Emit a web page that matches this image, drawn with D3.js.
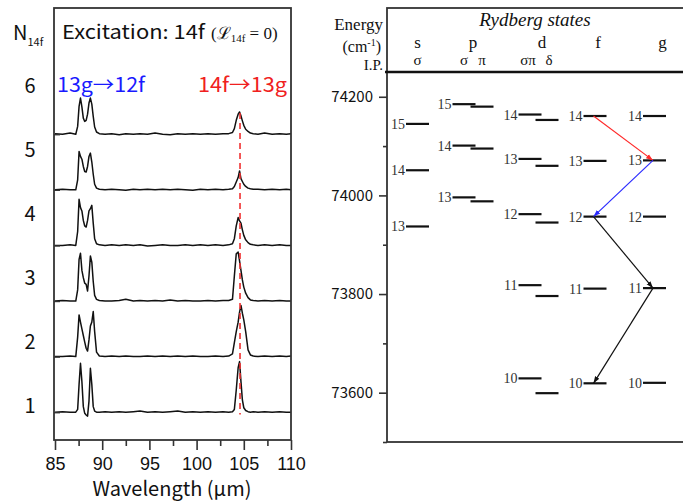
<!DOCTYPE html>
<html>
<head>
<meta charset="utf-8">
<script src="https://cdn.jsdelivr.net/npm/d3@7"></script>
<style>
  body { margin: 0; background: #fff; }
  svg { display: block; }
  .sans { font-family: "Noto Sans CJK JP", "Liberation Sans", sans-serif; }
  .serif { font-family: "Liberation Serif", "DejaVu Serif", serif; }
</style>
</head>
<body>
<script>
'use strict'

// ---- left panel data: spectra (wavelength in um, intensity in units of trace spacing)
var wavelength = [85, 85.8, 86.6, 87.2, 87.4, 87.55, 87.7, 87.85, 88.0, 88.15, 88.3, 88.45, 88.6, 88.75, 88.9, 89.05, 89.2, 89.4, 89.7, 90.3,
  91.0, 91.8, 92.5, 93.3, 94.0, 94.8, 95.6, 96.4, 97.2, 98.0, 98.8, 99.6, 100.4, 101.2, 102.0, 102.8, 103.4, 103.8, 104.0, 104.2,
  104.4, 104.55, 104.7, 104.85, 105.0, 105.2, 105.45, 105.7, 106.0, 106.5, 107.2, 108.0, 108.8, 109.5, 110]

var trace1 = [0.00, 0.01, 0.00, 0.00, 0.05, 0.50, 0.88, 0.55, 0.10, -0.02, -0.05, -0.07, 0.20, 0.79, 0.50, 0.10, 0.02, 0.00, 0.00, 0.01,
  0.00, 0.01, 0.00, 0.01, 0.02, 0.00, 0.01, 0.00, 0.01, 0.02, 0.00, 0.01, 0.00, 0.01, 0.00, 0.01, 0.00, 0.01, 0.05, 0.40,
  0.80, 0.91, 0.55, 0.22, 0.08, 0.03, 0.01, 0.00, 0.01, 0.00, 0.01, 0.00, 0.01, 0.00, 0.00]
var trace2 = [0.00, 0.00, 0.01, 0.00, 0.35, 0.75, 0.62, 0.50, 0.38, 0.26, 0.15, 0.10, 0.30, 0.55, 0.62, 0.81, 0.45, 0.08, 0.01, 0.00,
  0.01, 0.00, 0.01, 0.00, 0.00, 0.01, 0.00, 0.01, 0.00, 0.01, 0.00, 0.01, 0.00, 0.00, 0.01, 0.00, 0.01, 0.05, 0.25, 0.45,
  0.62, 0.80, 0.92, 0.78, 0.66, 0.45, 0.12, 0.03, 0.01, 0.00, 0.01, 0.00, 0.01, 0.00, 0.01]
var trace3 = [0.00, 0.01, 0.00, 0.00, 0.20, 0.75, 0.86, 0.55, 0.42, 0.32, 0.30, 0.18, 0.45, 0.81, 0.70, 0.35, 0.10, 0.03, 0.01, 0.00,
  0.00, 0.01, 0.03, 0.00, 0.01, 0.00, 0.01, 0.00, 0.02, 0.00, 0.01, 0.00, 0.00, 0.01, 0.00, 0.01, 0.01, 0.03, 0.45, 0.85,
  0.88, 0.72, 0.55, 0.38, 0.25, 0.14, 0.06, 0.02, 0.01, 0.00, 0.01, 0.00, 0.01, 0.00, 0.00]
var trace4 = [0.00, 0.00, 0.01, 0.00, 0.25, 0.83, 0.68, 0.62, 0.45, 0.35, 0.33, 0.45, 0.62, 0.66, 0.72, 0.40, 0.12, 0.03, 0.01, 0.00,
  0.01, 0.00, 0.01, 0.00, 0.01, -0.01, 0.00, 0.01, 0.00, 0.00, 0.01, 0.00, 0.01, 0.00, 0.01, 0.00, 0.01, 0.03, 0.12, 0.35,
  0.50, 0.44, 0.40, 0.28, 0.18, 0.10, 0.05, 0.02, 0.01, 0.00, 0.01, 0.00, 0.01, 0.00, 0.00]
var trace5 = [0.00, 0.01, 0.00, 0.00, 0.18, 0.69, 0.60, 0.55, 0.42, 0.33, 0.32, 0.42, 0.60, 0.66, 0.50, 0.28, 0.10, 0.03, 0.01, 0.00,
  0.01, 0.00, -0.01, 0.01, 0.00, 0.01, 0.00, 0.01, 0.00, 0.01, 0.00, -0.01, 0.01, 0.00, 0.01, 0.00, 0.01, 0.02, 0.06, 0.14,
  0.22, 0.34, 0.20, 0.15, 0.10, 0.06, 0.03, 0.02, 0.01, 0.01, 0.00, 0.01, 0.00, 0.01, 0.00]
var trace6 = [0.01, 0.00, 0.02, 0.00, 0.14, 0.50, 0.65, 0.49, 0.29, 0.23, 0.25, 0.36, 0.56, 0.65, 0.54, 0.32, 0.13, 0.04, 0.01, 0.00,
  0.01, -0.01, 0.01, 0.00, 0.01, 0.00, 0.02, 0.00, -0.01, 0.01, 0.00, 0.01, 0.00, 0.01, 0.00, 0.01, 0.01, 0.03, 0.10, 0.25,
  0.36, 0.40, 0.33, 0.24, 0.16, 0.09, 0.05, 0.02, 0.01, 0.00, 0.02, 0.00, 0.01, 0.00, 0.01]

var traceN = [1, 2, 3, 4, 5, 6]
var traces = [trace1, trace2, trace3, trace4, trace5, trace6]
var xTicksMajor = [85, 90, 95, 100, 105, 110]
var xTicksMinor = [87.5, 92.5, 97.5, 102.5, 107.5]
var transitionLine = 104.6

// ---- right panel data: Rydberg levels [n, energy cm-1]
var sSigma = [[15, 74145], [14, 74051], [13, 73937]]
var pSigma = [[15, 74185], [14, 74101], [13, 73996]]
var pPi = [[15, 74180], [14, 74095], [13, 73988]]
var dSigmaPi = [[14, 74164], [13, 74074], [12, 73962], [11, 73818], [10, 73629]]
var dDelta = [[14, 74153], [13, 74060], [12, 73945], [11, 73796], [10, 73599]]
var fLevels = [[14, 74161], [13, 74070], [12, 73957], [11, 73811], [10, 73619]]
var gLevels = [[14, 74161], [13, 74071], [12, 73957], [11, 73812], [10, 73620]]
var columnKeys = ['s', 'pσ', 'pπ', 'dσπ', 'dδ', 'f', 'g']
var columnSub = ['σ', 'σ', 'π', 'σπ', 'δ', '', '']
var columnLevels = [sSigma, pSigma, pPi, dSigmaPi, dDelta, fLevels, gLevels]
var columnLabelled = [true, true, false, true, false, true, true]
var seriesLetters = [['s', 's'], ['p', 'pσ'], ['d', 'dσπ'], ['f', 'f'], ['g', 'g']]
var energyTicks = [73600, 73800, 74000, 74200]
var energyMinor = [73500, 73700, 73900, 74100]
var ionization = 74250
var cascades = [
  {from: ['f', 14], to: ['g', 13], color: '#ff2a2a'},
  {from: ['g', 13], to: ['f', 12], color: '#2a2aff'},
  {from: ['f', 12], to: ['g', 11], color: '#111'},
  {from: ['g', 11], to: ['f', 10], color: '#111'}
]

var W = 683, H = 503
var svg = d3.select('body').append('svg').attr('width', W).attr('height', H)

// ================= left panel =================
var x = d3.scaleLinear().domain([85, 110]).range([55, 291])
var y = d3.scaleLinear().domain([0.5, 8.27]).range([440, 8])
var nLabelY = d3.scaleLinear().domain([1, 6]).range([406, 86])

var left = svg.append('g').attr('class', 'sans')

var line = d3.line()
  .x(function (d) { return x(d[0]) })
  .y(function (d) { return y(d[1]) })

traces.forEach(function (t, i) {
  var pts = wavelength.map(function (w, j) { return [w, traceN[i] + t[j]] })
  left.append('path')
    .attr('d', line(pts))
    .attr('fill', 'none')
    .attr('stroke', '#111')
    .attr('stroke-width', 1.5)
    .attr('stroke-linejoin', 'round')
})

left.append('line')
  .attr('x1', x(transitionLine)).attr('x2', x(transitionLine))
  .attr('y1', y(6.38)).attr('y2', y(0.96))
  .attr('stroke', '#f03030')
  .attr('stroke-width', 1.6)
  .attr('stroke-dasharray', '6,4')

left.append('rect')
  .attr('x', 54).attr('y', 8).attr('width', 237).attr('height', 432)
  .attr('fill', 'none').attr('stroke', '#333').attr('stroke-width', 1.8)

var xAxis = left.append('g').attr('transform', 'translate(0,440)')
  .call(d3.axisBottom(x).tickValues(xTicksMajor).tickSize(10).tickPadding(7).tickFormat(d3.format('d')))
xAxis.select('.domain').remove()
xAxis.selectAll('line').attr('stroke', '#333').attr('stroke-width', 1.6)
xAxis.selectAll('text').attr('font-size', 18).attr('fill', '#111')

var xMinor = left.append('g').attr('transform', 'translate(0,440)')
  .call(d3.axisBottom(x).tickValues(xTicksMinor).tickSize(6).tickFormat(''))
xMinor.select('.domain').remove()
xMinor.selectAll('line').attr('stroke', '#333').attr('stroke-width', 1.6)

var yAxis = left.append('g').attr('transform', 'translate(54,0)')
  .call(d3.axisRight(y).tickValues(traceN).tickSize(6).tickFormat(''))
yAxis.select('.domain').remove()
yAxis.selectAll('line').attr('stroke', '#333').attr('stroke-width', 1.4)

left.selectAll('text.nlab').data(traceN).enter().append('text')
  .attr('class', 'nlab')
  .attr('x', 30).attr('y', function (d) { return nLabelY(d) + 7 })
  .attr('text-anchor', 'middle').attr('font-size', 20).attr('fill', '#111')
  .text(function (d) { return d })

var nt = left.append('text').attr('x', 13).attr('y', 40).attr('font-size', 20).attr('fill', '#111')
nt.append('tspan').text('N')
nt.append('tspan').attr('font-size', 11).attr('dy', 6).text('14f')

// the original lettering is wide, so the labels are stretched to its measured widths
left.append('text').attr('x', 62).attr('y', 39).attr('font-size', 19).attr('fill', '#111')
  .attr('textLength', 143).attr('lengthAdjust', 'spacingAndGlyphs')
  .text('Excitation: 14f')
var lt = left.append('text').attr('class', 'serif').attr('x', 211).attr('y', 39).attr('font-size', 17).attr('fill', '#111')
lt.append('tspan').text('(ℒ')
lt.append('tspan').attr('font-size', 11).attr('dy', 3).text('14f')
lt.append('tspan').attr('dy', -3).text(' = 0)')

left.append('text').attr('x', 57).attr('y', 92).attr('font-size', 20).attr('fill', '#1a1aff')
  .attr('textLength', 88).attr('lengthAdjust', 'spacingAndGlyphs').text('13g→12f')
left.append('text').attr('x', 198).attr('y', 92).attr('font-size', 20).attr('fill', '#f02020')
  .attr('textLength', 89).attr('lengthAdjust', 'spacingAndGlyphs').text('14f→13g')

left.append('text').attr('x', 172).attr('y', 496).attr('text-anchor', 'middle').attr('font-size', 20).attr('fill', '#111')
  .text('Wavelength (μm)')

// ================= right panel =================
var E = d3.scaleLinear().domain([73500, 74380]).range([442, 8])
var colX = d3.scaleOrdinal().domain(columnKeys).range([417.5, 464, 482, 530, 547, 595, 654.5])
var halfW = 11.5

var right = svg.append('g')

right.append('rect')
  .attr('x', 387).attr('y', 8).attr('width', 310).attr('height', 434)
  .attr('fill', 'none').attr('stroke', '#333').attr('stroke-width', 1.8)

right.append('line')
  .attr('x1', 385).attr('x2', 690)
  .attr('y1', E(ionization)).attr('y2', E(ionization))
  .attr('stroke', '#111').attr('stroke-width', 2.5)

var eAxis = right.append('g').attr('class', 'sans').attr('transform', 'translate(387,0)')
  .call(d3.axisLeft(E).tickValues(energyTicks).tickSize(8).tickPadding(6).tickFormat(d3.format('d')))
eAxis.select('.domain').remove()
eAxis.selectAll('line').attr('stroke', '#333').attr('stroke-width', 1.6)
eAxis.selectAll('text').attr('font-size', 15).attr('fill', '#111')

var eMinor = right.append('g').attr('transform', 'translate(387,0)')
  .call(d3.axisLeft(E).tickValues(energyMinor).tickSize(4).tickFormat(''))
eMinor.select('.domain').remove()
eMinor.selectAll('line').attr('stroke', '#333').attr('stroke-width', 1.6)

var head = right.append('g').attr('class', 'serif').attr('fill', '#111')
head.append('text').attr('x', 383).attr('y', 30).attr('text-anchor', 'end').attr('font-size', 17).text('Energy')
var cm = head.append('text').attr('x', 381).attr('y', 52).attr('text-anchor', 'end').attr('font-size', 16)
cm.append('tspan').text('(cm')
cm.append('tspan').attr('font-size', 10).attr('dy', -6).text('-1')
cm.append('tspan').attr('dy', 6).text(')')
head.append('text').attr('x', 383).attr('y', 70).attr('text-anchor', 'end').attr('font-size', 15).text('I.P.')
head.append('text').attr('x', 535).attr('y', 26).attr('text-anchor', 'middle').attr('font-size', 19)
  .attr('font-style', 'italic').text('Rydberg states')

var letterShift = {s: 0, p: 9, d: 12, f: 3, g: 8}
head.selectAll('text.letter').data(seriesLetters).enter().append('text')
  .attr('class', 'letter')
  .attr('x', function (d) { return colX(d[1]) + letterShift[d[0]] })
  .attr('y', 48).attr('text-anchor', 'middle').attr('font-size', 17)
  .text(function (d) { return d[0] })
head.selectAll('text.sub').data(columnKeys.filter(function (k, i) { return columnSub[i] })).enter().append('text')
  .attr('class', 'sub')
  .attr('x', function (k) { return colX(k) - (k === 'dσπ' ? 2 : 0) + (k === 'dδ' ? 2 : 0) })
  .attr('y', 65).attr('text-anchor', 'middle').attr('font-size', 15)
  .text(function (k) { return columnSub[columnKeys.indexOf(k)] })

columnKeys.forEach(function (k, i) {
  var g = right.append('g')
  g.selectAll('line').data(columnLevels[i]).enter().append('line')
    .attr('x1', colX(k) - halfW).attr('x2', colX(k) + halfW)
    .attr('y1', function (d) { return E(d[1]) }).attr('y2', function (d) { return E(d[1]) })
    .attr('stroke', '#111').attr('stroke-width', 2.2)
  if (columnLabelled[i]) {
    g.selectAll('text').data(columnLevels[i]).enter().append('text')
      .attr('class', 'serif')
      .attr('x', colX(k) - halfW - 1).attr('y', function (d) { return E(d[1]) + 5 })
      .attr('text-anchor', 'end').attr('font-size', 14).attr('fill', '#333')
      .text(function (d) { return d[0] })
  }
})

function levelE (col, n) {
  var lv = columnLevels[columnKeys.indexOf(col)]
  return lv.filter(function (d) { return d[0] === n })[0][1]
}

var defs = svg.append('defs')
cascades.forEach(function (c, i) {
  defs.append('marker').attr('id', 'ah' + i)
    .attr('viewBox', '0 0 10 10').attr('refX', 10).attr('refY', 5)
    .attr('markerWidth', 7).attr('markerHeight', 7).attr('orient', 'auto')
    .attr('markerUnits', 'userSpaceOnUse')
    .append('path').attr('d', 'M0,1.5L10,5L0,8.5z').attr('fill', c.color)
})

right.selectAll('line.cascade').data(cascades).enter().append('line')
  .attr('class', 'cascade')
  .attr('x1', function (d) { return colX(d.from[0]) - 1.5 })
  .attr('y1', function (d) { return E(levelE(d.from[0], d.from[1])) })
  .attr('x2', function (d) { return colX(d.to[0]) - 1.5 })
  .attr('y2', function (d) { return E(levelE(d.to[0], d.to[1])) })
  .attr('stroke', function (d) { return d.color })
  .attr('stroke-width', 1.2)
  .attr('marker-end', function (d, i) { return 'url(#ah' + i + ')' })
</script>
</body>
</html>
